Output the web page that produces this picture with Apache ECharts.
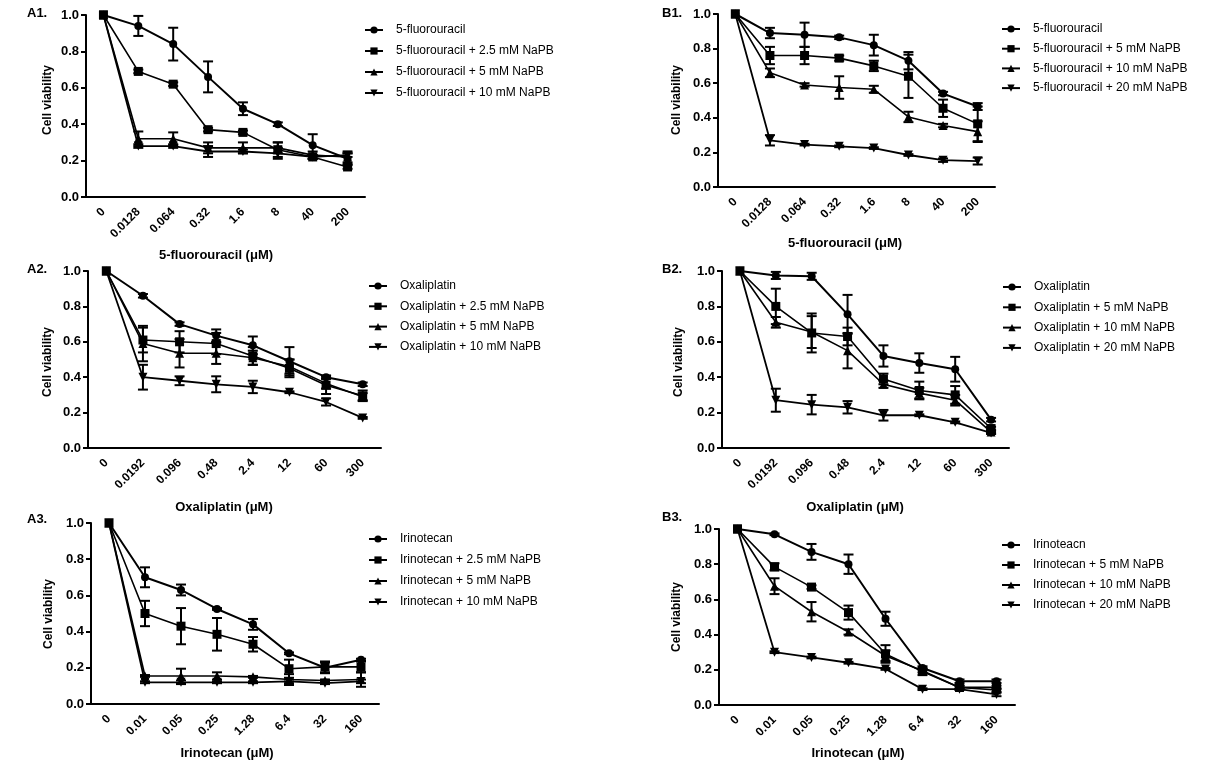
<!DOCTYPE html>
<html>
<head>
<meta charset="utf-8">
<script src="https://cdn.jsdelivr.net/npm/echarts@6/dist/echarts.min.js"></script>
<style>html,body{margin:0;padding:0;background:#fff}#c{width:1216px;height:765px}</style>
</head>
<body>
<div id="c"></div>
<script>
// ---------- categories ----------
const catsFU = ['0','0.0128','0.064','0.32','1.6','8','40','200'];
const catsOX = ['0','0.0192','0.096','0.48','2.4','12','60','300'];
const catsIR = ['0','0.01','0.05','0.25','1.28','6.4','32','160'];
const yTicks = [0, 0.2, 0.4, 0.6, 0.8, 1.0];

// ---------- A1 ----------
const A1_names = ['5-fluorouracil','5-fluorouracil + 2.5 mM NaPB','5-fluorouracil + 5 mM NaPB','5-fluorouracil + 10 mM NaPB'];
const A1_s1 = [1.0, 0.94, 0.84, 0.66, 0.485, 0.40, 0.285, 0.21];
const A1_s1_err = [0, 0.055, 0.09, 0.085, 0.035, 0.01, 0.06, 0.03];
const A1_s2 = [1.0, 0.69, 0.62, 0.37, 0.355, 0.26, 0.22, 0.165];
const A1_s2_err = [0, 0.01, 0.01, 0.01, 0.01, 0.04, 0.01, 0.01];
const A1_s3 = [1.0, 0.32, 0.32, 0.27, 0.27, 0.27, 0.23, 0.22];
const A1_s3_err = [0, 0.04, 0.035, 0.03, 0.03, 0.03, 0.02, 0.03];
const A1_s4 = [1.0, 0.28, 0.28, 0.25, 0.25, 0.24, 0.22, 0.23];
const A1_s4_err = [0, 0.01, 0.01, 0.03, 0.01, 0.03, 0.01, 0.01];

// ---------- B1 ----------
const B1_names = ['5-fluorouracil','5-fluorouracil + 5 mM NaPB','5-fluorouracil + 10 mM NaPB','5-fluorouracil + 20 mM NaPB'];
const B1_s1 = [1.0, 0.89, 0.88, 0.865, 0.82, 0.73, 0.54, 0.465];
const B1_s1_err = [0, 0.03, 0.07, 0.01, 0.06, 0.05, 0.01, 0.02];
const B1_s2 = [1.0, 0.76, 0.76, 0.745, 0.70, 0.64, 0.455, 0.365];
const B1_s2_err = [0, 0.05, 0.05, 0.015, 0.03, 0.125, 0.05, 0.1];
const B1_s3 = [1.0, 0.66, 0.59, 0.575, 0.565, 0.405, 0.355, 0.32];
const B1_s3_err = [0, 0.025, 0.01, 0.065, 0.02, 0.03, 0.01, 0.06];
const B1_s4 = [1.0, 0.27, 0.245, 0.235, 0.225, 0.185, 0.155, 0.15];
const B1_s4_err = [0, 0.03, 0.005, 0.005, 0.005, 0.005, 0.01, 0.02];

// ---------- A2 ----------
const A2_names = ['Oxaliplatin','Oxaliplatin + 2.5 mM NaPB','Oxaliplatin + 5 mM NaPB','Oxaliplatin + 10 mM NaPB'];
const A2_s1 = [1.0, 0.86, 0.70, 0.635, 0.58, 0.49, 0.40, 0.36];
const A2_s1_err = [0, 0.01, 0.01, 0.035, 0.05, 0.08, 0.01, 0.01];
const A2_s2 = [1.0, 0.61, 0.60, 0.59, 0.52, 0.45, 0.355, 0.295];
const A2_s2_err = [0, 0.07, 0.06, 0.06, 0.05, 0.05, 0.05, 0.03];
const A2_s3 = [1.0, 0.59, 0.535, 0.535, 0.51, 0.46, 0.365, 0.29];
const A2_s3_err = [0, 0.1, 0.08, 0.06, 0.04, 0.04, 0.03, 0.02];
const A2_s4 = [1.0, 0.40, 0.38, 0.36, 0.345, 0.315, 0.26, 0.17];
const A2_s4_err = [0, 0.07, 0.025, 0.045, 0.035, 0.005, 0.02, 0.005];

// ---------- B2 ----------
const B2_names = ['Oxaliplatin','Oxaliplatin + 5 mM NaPB','Oxaliplatin + 10 mM NaPB','Oxaliplatin + 20 mM NaPB'];
const B2_s1 = [1.0, 0.975, 0.97, 0.755, 0.52, 0.48, 0.445, 0.16];
const B2_s1_err = [0, 0.02, 0.02, 0.11, 0.06, 0.055, 0.07, 0.01];
const B2_s2 = [1.0, 0.80, 0.65, 0.63, 0.39, 0.325, 0.30, 0.11];
const B2_s2_err = [0, 0.1, 0.11, 0.05, 0.03, 0.05, 0.05, 0.01];
const B2_s3 = [1.0, 0.71, 0.655, 0.55, 0.36, 0.31, 0.27, 0.09];
const B2_s3_err = [0, 0.03, 0.09, 0.1, 0.02, 0.03, 0.03, 0.01];
const B2_s4 = [1.0, 0.27, 0.245, 0.23, 0.185, 0.185, 0.145, 0.085];
const B2_s4_err = [0, 0.065, 0.055, 0.035, 0.03, 0.005, 0.005, 0.005];

// ---------- A3 ----------
const A3_names = ['Irinotecan','Irinotecan + 2.5 mM NaPB','Irinotecan + 5 mM NaPB','Irinotecan + 10 mM NaPB'];
const A3_s1 = [1.0, 0.70, 0.63, 0.525, 0.44, 0.28, 0.20, 0.245];
const A3_s1_err = [0, 0.055, 0.03, 0.005, 0.03, 0.005, 0.03, 0.005];
const A3_s2 = [1.0, 0.50, 0.43, 0.385, 0.33, 0.195, 0.205, 0.205];
const A3_s2_err = [0, 0.07, 0.1, 0.09, 0.04, 0.05, 0.03, 0.03];
const A3_s3 = [1.0, 0.155, 0.155, 0.155, 0.15, 0.135, 0.13, 0.135];
const A3_s3_err = [0, 0.005, 0.04, 0.02, 0.005, 0.03, 0.005, 0.04];
const A3_s4 = [1.0, 0.12, 0.12, 0.12, 0.12, 0.125, 0.115, 0.125];
const A3_s4_err = [0, 0.005, 0.01, 0.005, 0.005, 0.01, 0.005, 0.01];

// ---------- B3 ----------
const B3_names = ['Irinoteacn','Irinotecan + 5 mM NaPB','Irinotecan + 10 mM NaPB','Irinotecan + 20 mM NaPB'];
const B3_s1 = [1.0, 0.97, 0.87, 0.80, 0.49, 0.21, 0.135, 0.135];
const B3_s1_err = [0, 0.005, 0.045, 0.055, 0.04, 0.01, 0.01, 0.01];
const B3_s2 = [1.0, 0.785, 0.67, 0.525, 0.29, 0.19, 0.10, 0.10];
const B3_s2_err = [0, 0.02, 0.01, 0.04, 0.05, 0.02, 0.01, 0.01];
const B3_s3 = [1.0, 0.675, 0.53, 0.415, 0.28, 0.195, 0.10, 0.085];
const B3_s3_err = [0, 0.045, 0.055, 0.015, 0.03, 0.01, 0.01, 0.01];
const B3_s4 = [1.0, 0.30, 0.27, 0.24, 0.205, 0.09, 0.09, 0.06];
const B3_s4_err = [0, 0.005, 0.005, 0.005, 0.005, 0.005, 0.005, 0.01];

// ---------- layout ----------
const FONT = '"Liberation Sans", Arial, sans-serif';
const panels = [
  {key:'A1', cats:catsFU, names:A1_names, means:[A1_s1,A1_s2,A1_s3,A1_s4], errs:[A1_s1_err,A1_s2_err,A1_s3_err,A1_s4_err],
   grid:{left:86, top:15, width:279, height:182}, leg:{left:359, top:18, gap:7},
   lab:[27,14], xname:['5-fluorouracil (\u03bcM)',216,255], yname:[48,100]},
  {key:'B1', cats:catsFU, names:B1_names, means:[B1_s1,B1_s2,B1_s3,B1_s4], errs:[B1_s1_err,B1_s2_err,B1_s3_err,B1_s4_err],
   grid:{left:718, top:14, width:277, height:173}, leg:{left:996, top:17, gap:5.7},
   lab:[662,14], xname:['5-fluorouracil (\u03bcM)',845,243], yname:[677,100]},
  {key:'A2', cats:catsOX, names:A2_names, means:[A2_s1,A2_s2,A2_s3,A2_s4], errs:[A2_s1_err,A2_s2_err,A2_s3_err,A2_s4_err],
   grid:{left:88, top:271, width:293, height:177}, leg:{left:363, top:274, gap:6.3},
   lab:[27,270], xname:['Oxaliplatin (\u03bcM)',224,507], yname:[48,362]},
  {key:'B2', cats:catsOX, names:B2_names, means:[B2_s1,B2_s2,B2_s3,B2_s4], errs:[B2_s1_err,B2_s2_err,B2_s3_err,B2_s4_err],
   grid:{left:722, top:271, width:287, height:177}, leg:{left:997, top:275, gap:6.3},
   lab:[662,270], xname:['Oxaliplatin (\u03bcM)',855,507], yname:[679,362]},
  {key:'A3', cats:catsIR, names:A3_names, means:[A3_s1,A3_s2,A3_s3,A3_s4], errs:[A3_s1_err,A3_s2_err,A3_s3_err,A3_s4_err],
   grid:{left:91, top:523, width:288, height:181}, leg:{left:363, top:527, gap:7},
   lab:[27,520], xname:['Irinotecan (\u03bcM)',227,753], yname:[49,614]},
  {key:'B3', cats:catsIR, names:B3_names, means:[B3_s1,B3_s2,B3_s3,B3_s4], errs:[B3_s1_err,B3_s2_err,B3_s3_err,B3_s4_err],
   grid:{left:719, top:529, width:296, height:176}, leg:{left:996, top:533, gap:6},
   lab:[662,518], xname:['Irinotecan (\u03bcM)',858,753], yname:[677,617]}
];

const symbols = ['circle','rect','triangle','path://M0,0L10,0L5,9Z'];
const symSizes = [8, 9, 9, 9];
const lineWidths = [2, 1.6, 1.6, 1.8];

function renderErr(params, api) {
  const x = api.value(0), y = api.value(1), e = api.value(2);
  if (!e) return null;
  const t = api.coord([x, y + e]);
  const b = api.coord([x, y - e]);
  const w = 5;
  const st = {stroke:'#000', lineWidth:2};
  return {type:'group', children:[
    {type:'line', shape:{x1:t[0], y1:t[1], x2:b[0], y2:b[1]}, style:st},
    {type:'line', shape:{x1:t[0]-w, y1:t[1], x2:t[0]+w, y2:t[1]}, style:st},
    {type:'line', shape:{x1:b[0]-w, y1:b[1], x2:b[0]+w, y2:b[1]}, style:st}
  ]};
}

const grid = [], xAxis = [], yAxis = [], series = [], legend = [], graphic = [];
panels.forEach((p, i) => {
  grid.push(Object.assign({containLabel:false}, p.grid));
  xAxis.push({
    type:'category', gridIndex:i, data:p.cats, boundaryGap:true,
    axisLine:{lineStyle:{color:'#000', width:2}},
    axisTick:{alignWithLabel:true, length:6, lineStyle:{color:'#000', width:2}},
    axisLabel:{rotate:45, margin:13, color:'#000', fontWeight:'bold', fontSize:12, fontFamily:FONT, interval:0},
    splitLine:{show:false}
  });
  yAxis.push({
    type:'value', gridIndex:i, min:0, max:1, interval:0.2,
    axisLine:{show:true, lineStyle:{color:'#000', width:2}},
    axisTick:{show:true, length:5, lineStyle:{color:'#000', width:2}},
    axisLabel:{color:'#000', fontWeight:'bold', fontSize:13, fontFamily:FONT, margin:7,
      formatter: v => v.toFixed(1)},
    splitLine:{show:false}
  });
  p.names.forEach((nm, k) => {
    series.push({
      type:'line', name:p.key + '|' + nm, xAxisIndex:i, yAxisIndex:i,
      data:p.means[k], symbol:symbols[k], symbolSize:symSizes[k],
      itemStyle:{color:'#000'}, lineStyle:{color:'#000', width:lineWidths[k]},
      z:3, animation:false, silent:true
    });
    series.push({
      type:'custom', name:p.key + '_err' + k, xAxisIndex:i, yAxisIndex:i,
      data:p.means[k].map((v, j) => [j, v, p.errs[k][j]]),
      encode:{x:0, y:1}, renderItem:renderErr, z:2, animation:false, silent:true
    });
  });
  legend.push({
    orient:'vertical', left:p.leg.left, top:p.leg.top, itemGap:p.leg.gap,
    itemWidth:18, itemHeight:9, selectedMode:false,
    data:p.names.map(nm => p.key + '|' + nm),
    formatter: n => n.split('|')[1],
    textStyle:{color:'#000', fontSize:12, fontFamily:FONT, lineHeight:14, padding:[0,0,0,8]}
  });
  graphic.push({type:'text', left:p.lab[0], top:p.lab[1]-7,
    style:{text:p.key + '.', font:'bold 13px ' + FONT, fill:'#000'}});
  graphic.push({type:'text', x:p.xname[1], y:p.xname[2],
    style:{text:p.xname[0], font:'bold 13px ' + FONT, fill:'#000', textAlign:'center', textVerticalAlign:'middle'}});
  graphic.push({type:'text', x:p.yname[0], y:p.yname[1], rotation:Math.PI/2,
    style:{text:'Cell viability', font:'bold 12px ' + FONT, fill:'#000', textAlign:'center', textVerticalAlign:'middle'}});
});

const chart = echarts.init(document.getElementById('c'), null, {renderer:'canvas'});
chart.setOption({
  backgroundColor:'#fff', animation:false,
  grid, xAxis, yAxis, series, legend, graphic
});
</script>
</body>
</html>
